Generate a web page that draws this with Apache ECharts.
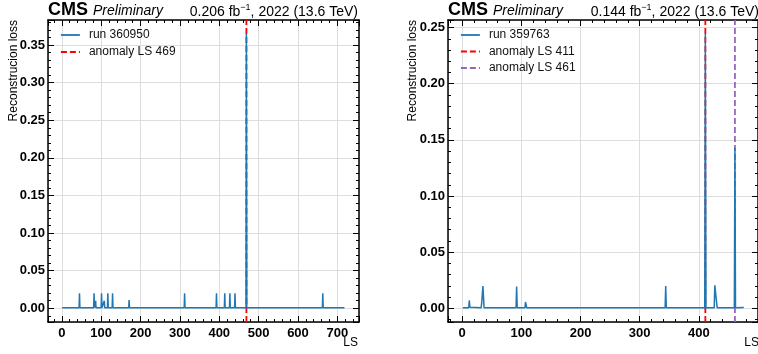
<!DOCTYPE html>
<html>
<head>
<meta charset="utf-8">
<script src="https://cdn.jsdelivr.net/npm/echarts@6/dist/echarts.min.js"></script>
<style>
  html, body { margin: 0; padding: 0; background: #fff; }
  #chart { width: 758px; height: 354px; }
</style>
</head>
<body>
<div id="chart"></div>
<script>
// left panel: run 360950
const leftRunName = "run 360950";
const leftAnomalyLS = 469;
const leftXRange = [-35, 755];
const leftYRange = [-0.0183, 0.3833];
const leftLoss = [
  [1, 0.0008], [44, 0.0008], [45, 0.020], [46, 0.0008], [81, 0.0008], [82, 0.020], [83, 0.0008],
  [85, 0.0008], [86, 0.010], [87, 0.0008], [100, 0.0008], [101, 0.020], [102, 0.0008],
  [107, 0.0008], [108, 0.010], [109, 0.0008], [116, 0.0008], [117, 0.020], [118, 0.0008],
  [128, 0.0008], [129, 0.020], [130, 0.0008], [170, 0.0008], [171, 0.011], [172, 0.0008],
  [311, 0.0008], [312, 0.020], [313, 0.0008], [392, 0.0008], [393, 0.020], [394, 0.0008],
  [413, 0.0008], [414, 0.020], [415, 0.0008], [426, 0.0008], [427, 0.020], [428, 0.0008],
  [439, 0.0008], [440, 0.020], [441, 0.0008], [468, 0.0008], [469, 0.365], [470, 0.0008],
  [662, 0.0008], [663, 0.020], [664, 0.0008], [718, 0.0008], [719, 0.0015]
];

// right panel: run 359763
const rightRunName = "run 359763";
const rightAnomalyLS = [411, 461];
const rightXRange = [-24, 500];
const rightYRange = [-0.0122, 0.2567];
const rightLoss = [
  [1, 0.0005], [11, 0.0005], [12, 0.007], [13, 0.001], [14, 0.0005], [32, 0.0005],
  [33, 0.005], [34, 0.005], [35, 0.0198], [36, 0.0198], [37, 0.0005], [52, 0.0005],
  [53, 0.0018], [54, 0.0005], [91, 0.0005], [92, 0.0195], [93, 0.0005], [106, 0.0005],
  [107, 0.0056], [108, 0.0045], [109, 0.0005], [215, 0.0005], [216, 0.0015], [217, 0.0005],
  [323, 0.0005], [324, 0.0015], [325, 0.0005], [343, 0.0005], [344, 0.0198], [345, 0.0005],
  [352, 0.0005], [353, 0.0012], [355, 0.0012], [356, 0.0005], [410, 0.0005], [411, 0.2445],
  [412, 0.0005], [426, 0.0005], [427, 0.0205], [428, 0.0216], [430, 0.0216], [431, 0.0005],
  [460, 0.0005], [461, 0.143], [462, 0.0005], [476, 0.0008]
];

const lumiLeft = "0.206";
const lumiRight = "0.144";
const FONT = "Liberation Sans, Arial, Helvetica, sans-serif";
const BLUE = "#1f77b4";
const RED = "#ff0000";
const PURPLE = "#9467bd";

function xAxes(gridIndex, range) {
  const base = {
    type: "value",
    gridIndex,
    min: range[0],
    max: range[1],
    minInterval: 100,
    maxInterval: 100,
    splitNumber: 8,
    axisLine: { show: true, onZero: false, lineStyle: { color: "#000", width: 1.5 } },
    axisTick: { show: true, inside: true, length: 6, lineStyle: { color: "#000", width: 1 } },
    minorTick: { show: true, splitNumber: 5, length: 3, lineStyle: { color: "#000", width: 1 } },
  };
  return [
    {
      ...base,
      position: "bottom",
      axisLabel: {
        margin: 5, fontSize: 13, fontWeight: "bold", color: "#000", fontFamily: FONT,
        showMinLabel: false, showMaxLabel: false,
      },
      splitLine: { show: true, lineStyle: { color: "#dedede", width: 1 } },
    },
    { ...base, position: "top", axisLabel: { show: false }, splitLine: { show: false } },
  ];
}

function yAxes(gridIndex, range) {
  const base = {
    type: "value",
    gridIndex,
    min: range[0],
    max: range[1],
    minInterval: 0.05,
    maxInterval: 0.05,
    splitNumber: 8,
    axisLine: { show: true, onZero: false, lineStyle: { color: "#000", width: 1.5 } },
    axisTick: { show: true, inside: true, length: 6, lineStyle: { color: "#000", width: 1 } },
    minorTick: { show: true, splitNumber: 5, length: 3, lineStyle: { color: "#000", width: 1 } },
  };
  return [
    {
      ...base,
      position: "left",
      axisLabel: {
        margin: 3, fontSize: 13, fontWeight: "bold", color: "#000", fontFamily: FONT,
        showMinLabel: false, showMaxLabel: false,
        formatter: (v) => v.toFixed(2),
      },
      splitLine: { show: true, lineStyle: { color: "#dedede", width: 1 } },
    },
    { ...base, position: "right", axisLabel: { show: false }, splitLine: { show: false } },
  ];
}

function vline(name, ls, range, color, xi, yi) {
  return {
    name,
    type: "line",
    xAxisIndex: xi,
    yAxisIndex: yi,
    data: [[ls, range[0]], [ls, range[1]]],
    symbol: "none",
    z: 2,
    lineStyle: { color, width: 1.8, type: [6, 3] },
    itemStyle: { color },
    animation: false,
  };
}

function headerTexts(left, right, lumi) {
  return [
    { type: "text", x: left, y: 10,
      style: { text: "CMS", font: "bold 18px " + FONT, fill: "#000", textVerticalAlign: "middle" } },
    { type: "text", x: left + 45, y: 11,
      style: { text: "Preliminary", font: "italic 14px " + FONT, fill: "#000", textVerticalAlign: "middle" } },
    { type: "text", x: right, y: 12,
      style: {
        text: "{a|" + lumi + " fb}{s|\u22121}{a|, 2022 (13.6 TeV)}",
        textAlign: "right", textVerticalAlign: "middle", fill: "#000",
        rich: {
          a: { fontSize: 14, fontFamily: FONT, fill: "#000" },
          s: { fontSize: 9, fontFamily: FONT, fill: "#000", padding: [0, 0, 9, 0] },
        },
      } },
  ];
}

function axisNames(yLabelX, right) {
  return [
    { type: "text", x: yLabelX, y: 20, rotation: Math.PI / 2,
      style: { text: "Reconstrucion loss", font: "12px " + FONT, fill: "#000",
        textAlign: "right", textVerticalAlign: "middle" } },
    { type: "text", x: right, y: 343,
      style: { text: "LS", font: "12px " + FONT, fill: "#000",
        textAlign: "right", textVerticalAlign: "middle" } },
  ];
}

const legendBase = {
  orient: "vertical", top: 29, padding: 0,
  itemWidth: 19, itemHeight: 14,
  itemStyle: { opacity: 0 },
  lineStyle: { width: 1.8 },
  textStyle: { fontSize: 12, fontFamily: FONT, color: "#111", padding: [0, 0, 0, 4] },
};

const chart = echarts.init(document.getElementById("chart"), null, { renderer: "canvas" });
chart.setOption({
  animation: false,
  backgroundColor: "#fff",
  grid: [
    { left: 48, top: 20, width: 311, height: 302 },
    { left: 448, top: 20, width: 313, height: 302 },
  ],
  xAxis: [...xAxes(0, leftXRange), ...xAxes(1, rightXRange)],
  yAxis: [...yAxes(0, leftYRange), ...yAxes(1, rightYRange)],
  legend: [
    { ...legendBase, left: 60, itemGap: 5,
      data: [leftRunName, "anomaly LS " + leftAnomalyLS] },
    { ...legendBase, left: 460, itemGap: 4.5,
      data: [rightRunName, ...rightAnomalyLS.map((ls) => "anomaly LS " + ls)] },
  ],
  series: [
    {
      name: leftRunName, type: "line", xAxisIndex: 0, yAxisIndex: 0,
      data: leftLoss, symbol: "none", z: 3,
      lineStyle: { color: BLUE, width: 1.5 }, itemStyle: { color: BLUE },
    },
    vline("anomaly LS " + leftAnomalyLS, leftAnomalyLS, leftYRange, RED, 0, 0),
    {
      name: rightRunName, type: "line", xAxisIndex: 2, yAxisIndex: 2,
      data: rightLoss, symbol: "none", z: 3,
      lineStyle: { color: BLUE, width: 1.5 }, itemStyle: { color: BLUE },
    },
    vline("anomaly LS " + rightAnomalyLS[0], rightAnomalyLS[0], rightYRange, RED, 2, 2),
    vline("anomaly LS " + rightAnomalyLS[1], rightAnomalyLS[1], rightYRange, PURPLE, 2, 2),
  ],
  graphic: [
    ...headerTexts(48, 358, lumiLeft),
    ...headerTexts(448, 759, lumiRight),
    ...axisNames(14, 358),
    ...axisNames(413, 759),
  ],
});
</script>
</body>
</html>
